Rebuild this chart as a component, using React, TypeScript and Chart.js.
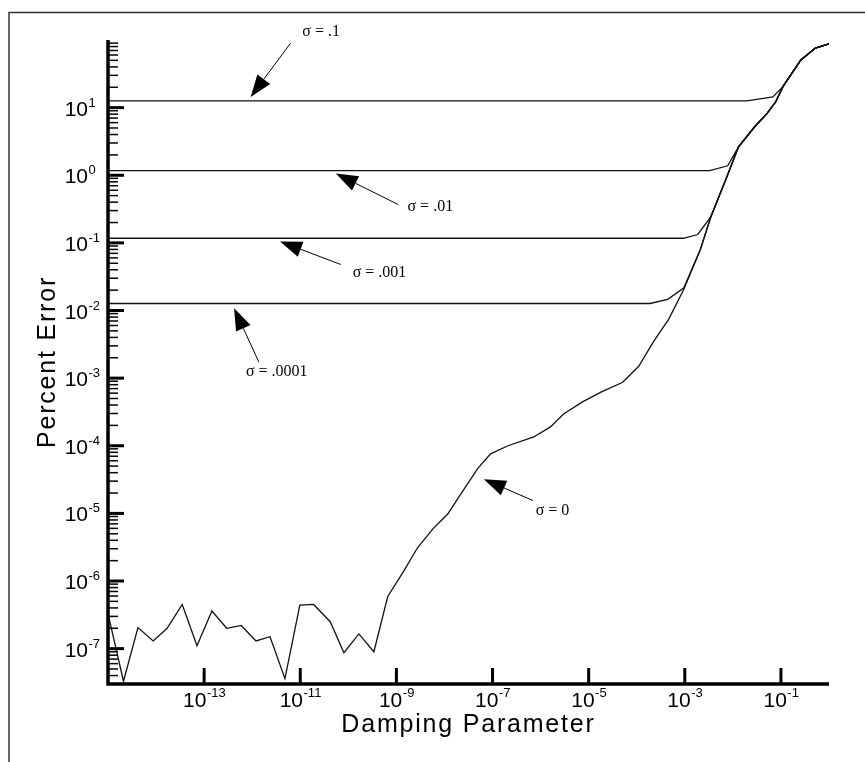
import React, { useEffect, useRef } from "react";
import { Chart, registerables } from "chart.js";

Chart.register(...registerables);

// ---- Data ----
const sigma0X = [
  1e-15, 2.1e-15, 4.2e-15, 8.7e-15, 1.7e-14, 3.5e-14, 7.1e-14, 1.45e-13, 2.95e-13, 5.9e-13,
  1.2e-12, 2.35e-12, 4.8e-12, 9.8e-12, 1.9e-11, 4.2e-11, 8.1e-11, 1.66e-10, 3.4e-10, 6.6e-10,
  1.4e-9, 2.75e-9, 5.75e-9, 1.17e-8, 2.0e-8, 4.9e-8, 9.1e-8, 2.1e-7, 7.2e-7, 1.6e-6,
  3.0e-6, 7.6e-6, 1.8e-5, 5.1e-5, 1.1e-4, 2.2e-4, 4.6e-4, 9.5e-4, 2.1e-3, 3.5e-3,
  7.1e-3, 1.3e-2, 2.7e-2, 5.2e-2, 7.8e-2, 0.11, 0.26, 0.52, 1.0,
];
const sigma0Y = [
  3.3e-7, 3.3e-8, 2.05e-7, 1.3e-7, 2.0e-7, 4.5e-7, 1.1e-7, 3.6e-7, 2.0e-7, 2.2e-7,
  1.3e-7, 1.5e-7, 3.6e-8, 4.4e-7, 4.5e-7, 2.5e-7, 8.7e-8, 1.65e-7, 9.0e-8, 5.9e-7,
  1.38e-6, 3.1e-6, 5.9e-6, 9.8e-6, 1.76e-5, 4.6e-5, 7.6e-5, 1.0e-4, 1.35e-4, 1.9e-4,
  2.95e-4, 4.5e-4, 6.2e-4, 8.7e-4, 1.5e-3, 3.4e-3, 7.4e-3, 0.0205, 0.079, 0.245,
  0.86, 2.6, 5.0, 8.3, 12.2, 20.4, 50.7, 76, 87.6,
];

const sigma1X = [1e-15, 1.95e-2, 6.8e-2, 0.11, 0.26, 0.52, 1.0];
const sigma1Y = [12.6, 12.6, 14.4, 20.4, 50.7, 76, 87.6];

const sigma01X = [1e-15, 3.3e-3, 7.8e-3, 1.3e-2, 2.7e-2, 5.2e-2, 7.8e-2, 0.11, 0.26, 0.52, 1.0];
const sigma01Y = [1.17, 1.17, 1.38, 2.6, 5.0, 8.3, 12.2, 20.4, 50.7, 76, 87.6];

const sigma001X = [1e-15, 9.4e-4, 1.86e-3, 3.5e-3, 7.1e-3, 1.3e-2, 2.7e-2, 5.2e-2, 7.8e-2, 0.11, 0.26, 0.52, 1.0];
const sigma001Y = [0.117, 0.117, 0.133, 0.245, 0.86, 2.6, 5.0, 8.3, 12.2, 20.4, 50.7, 76, 87.6];

const sigma0001X = [1e-15, 1.9e-4, 4.4e-4, 9.5e-4, 2.1e-3, 3.5e-3, 7.1e-3, 1.3e-2, 2.7e-2, 5.2e-2, 7.8e-2, 0.11, 0.26, 0.52, 1.0];
const sigma0001Y = [0.0127, 0.0127, 0.0146, 0.0215, 0.079, 0.245, 0.86, 2.6, 5.0, 8.3, 12.2, 20.4, 50.7, 76, 87.6];

// ---- Axes ----
const xMin = 1e-15;
const xMax = 1;
const yMin = 3.16e-8;
const yMax = 100;
const xTickValues = [1e-13, 1e-11, 1e-9, 1e-7, 1e-5, 1e-3, 1e-1];
const xTickExponents = ["-13", "-11", "-9", "-7", "-5", "-3", "-1"];
const yTickValues = [10, 1, 0.1, 0.01, 1e-3, 1e-4, 1e-5, 1e-6, 1e-7];
const yTickExponents = ["1", "0", "-1", "-2", "-3", "-4", "-5", "-6", "-7"];
const xTitle = "Damping Parameter";
const yTitle = "Percent Error";

// ---- Annotations (data coordinates) ----
const annotationLabels = ["σ = .1", "σ = .01", "σ = .001", "σ = .0001", "σ = 0"];
const annotationTextX = [1.1e-11, 1.7e-9, 1.23e-10, 7.4e-13, 7.9e-7];
const annotationTextY = [131, 0.344, 0.0366, 1.23e-3, 1.1e-5];
const arrowTailX = [6.3e-12, 1.1e-9, 6.9e-11, 1.38e-12, 6.9e-7];
const arrowTailY = [90, 0.368, 0.048, 1.72e-3, 1.55e-5];
const arrowTipX = [9.3e-13, 5.5e-11, 3.8e-12, 4.2e-13, 6.6e-8];
const arrowTipY = [14.4, 1.06, 0.105, 0.0108, 3.2e-5];

const W = 865;
const H = 762;

function toPoints(xs: number[], ys: number[]) {
  return xs.map((x, i) => ({ x, y: ys[i] }));
}

const decorPlugin = {
  id: "decor",
  beforeDraw(chart: any) {
    const ctx = chart.ctx;
    ctx.save();
    ctx.fillStyle = "#ffffff";
    ctx.fillRect(0, 0, chart.width, chart.height);
    ctx.restore();
  },
  afterDraw(chart: any) {
    const ctx: CanvasRenderingContext2D = chart.ctx;
    const { left, right, top, bottom } = chart.chartArea;
    const xs = chart.scales.x;
    const ys = chart.scales.y;
    ctx.save();

    // outer frame (top and left)
    ctx.strokeStyle = "#333";
    ctx.lineWidth = 1.5;
    ctx.beginPath();
    ctx.moveTo(9, H);
    ctx.lineTo(9, 12.5);
    ctx.lineTo(W, 12.5);
    ctx.stroke();

    // axis lines
    ctx.strokeStyle = "#000";
    ctx.lineWidth = 3.5;
    ctx.lineCap = "butt";
    ctx.beginPath();
    ctx.moveTo(left, top);
    ctx.lineTo(left, bottom);
    ctx.lineTo(right, bottom);
    ctx.stroke();

    ctx.fillStyle = "#000";
    const baseFont = '21px "Liberation Sans", Arial, sans-serif';
    const expFont = '13px "Liberation Sans", Arial, sans-serif';

    // x ticks + labels
    xTickValues.forEach((v, i) => {
      const px = xs.getPixelForValue(v);
      ctx.lineWidth = 3;
      ctx.beginPath();
      ctx.moveTo(px, bottom);
      ctx.lineTo(px, bottom - 16);
      ctx.stroke();
      ctx.font = baseFont;
      const w10 = ctx.measureText("10").width;
      ctx.font = expFont;
      const wExp = ctx.measureText(xTickExponents[i]).width;
      const start = px - (w10 + wExp) / 2;
      ctx.textAlign = "left";
      ctx.textBaseline = "alphabetic";
      ctx.font = baseFont;
      ctx.fillText("10", start, bottom + 23);
      ctx.font = expFont;
      ctx.fillText(xTickExponents[i], start + w10 + 0.5, bottom + 13);
    });

    // y minor ticks
    ctx.lineWidth = 1.5;
    for (let d = -9; d <= 2; d++) {
      for (let m = 2; m <= 9; m++) {
        const v = m * Math.pow(10, d);
        if (v <= yMin || v >= yMax) continue;
        const py = ys.getPixelForValue(v);
        ctx.beginPath();
        ctx.moveTo(left, py);
        ctx.lineTo(left + 10, py);
        ctx.stroke();
      }
    }
    // y major ticks + labels
    yTickValues.forEach((v, i) => {
      const py = ys.getPixelForValue(v);
      ctx.lineWidth = 3;
      ctx.beginPath();
      ctx.moveTo(left, py);
      ctx.lineTo(left + 16, py);
      ctx.stroke();
      ctx.textBaseline = "alphabetic";
      ctx.font = baseFont;
      ctx.textAlign = "right";
      ctx.fillText("10", left - 20, py + 8);
      ctx.font = expFont;
      ctx.textAlign = "left";
      ctx.fillText(yTickExponents[i], left - 19.5, py - 1);
    });

    // axis titles
    const titleFont = '25px "Liberation Sans", Arial, sans-serif';
    ctx.font = titleFont;
    (ctx as any).letterSpacing = "1.8px";
    ctx.textAlign = "center";
    ctx.textBaseline = "alphabetic";
    ctx.fillText(xTitle, (left + right) / 2, bottom + 48);
    ctx.save();
    ctx.translate(55, (top + bottom) / 2);
    ctx.rotate(-Math.PI / 2);
    ctx.fillText(yTitle, 0, 0);
    ctx.restore();
    (ctx as any).letterSpacing = "0px";

    // annotations: arrows + labels
    ctx.font = '16px "Liberation Serif", "Times New Roman", serif';
    ctx.textAlign = "left";
    ctx.textBaseline = "middle";
    annotationLabels.forEach((label, i) => {
      const tx = xs.getPixelForValue(arrowTailX[i]);
      const ty = ys.getPixelForValue(arrowTailY[i]);
      const hx = xs.getPixelForValue(arrowTipX[i]);
      const hy = ys.getPixelForValue(arrowTipY[i]);
      const ang = Math.atan2(hy - ty, hx - tx);
      const len = 22;
      const half = 8;
      const bx = hx - len * Math.cos(ang);
      const by = hy - len * Math.sin(ang);
      ctx.lineWidth = 1;
      ctx.beginPath();
      ctx.moveTo(tx, ty);
      ctx.lineTo(bx, by);
      ctx.stroke();
      ctx.beginPath();
      ctx.moveTo(hx, hy);
      ctx.lineTo(bx + half * Math.sin(ang), by - half * Math.cos(ang));
      ctx.lineTo(bx - half * Math.sin(ang), by + half * Math.cos(ang));
      ctx.closePath();
      ctx.fill();
      ctx.fillText(
        label,
        xs.getPixelForValue(annotationTextX[i]),
        ys.getPixelForValue(annotationTextY[i])
      );
    });

    ctx.restore();
  },
};

export default function App() {
  const canvasRef = useRef<HTMLCanvasElement | null>(null);

  useEffect(() => {
    document.body.style.margin = "0";
    const canvas = canvasRef.current;
    if (!canvas) return;
    const lineStyle = {
      showLine: true,
      borderColor: "#111",
      borderWidth: 1.3,
      pointRadius: 0,
      tension: 0,
      fill: false,
    };
    const chart = new Chart(canvas, {
      type: "scatter",
      data: {
        datasets: [
          { label: "σ = 0", data: toPoints(sigma0X, sigma0Y), ...lineStyle },
          { label: "σ = .0001", data: toPoints(sigma0001X, sigma0001Y), ...lineStyle },
          { label: "σ = .001", data: toPoints(sigma001X, sigma001Y), ...lineStyle },
          { label: "σ = .01", data: toPoints(sigma01X, sigma01Y), ...lineStyle },
          { label: "σ = .1", data: toPoints(sigma1X, sigma1Y), ...lineStyle },
        ],
      },
      options: {
        responsive: false,
        animation: false,
        devicePixelRatio: 1,
        layout: { padding: { left: 108, top: 40, right: W - 829, bottom: H - 684 } },
        plugins: { legend: { display: false }, tooltip: { enabled: false } },
        events: [],
        scales: {
          x: { type: "logarithmic", min: xMin, max: xMax, display: false },
          y: { type: "logarithmic", min: yMin, max: yMax, display: false },
        },
      },
      plugins: [decorPlugin],
    });
    return () => chart.destroy();
  }, []);

  return (
    <div style={{ position: "absolute", left: 0, top: 0, width: W, height: H }}>
      <canvas ref={canvasRef} width={W} height={H} style={{ width: W, height: H }} />
    </div>
  );
}
